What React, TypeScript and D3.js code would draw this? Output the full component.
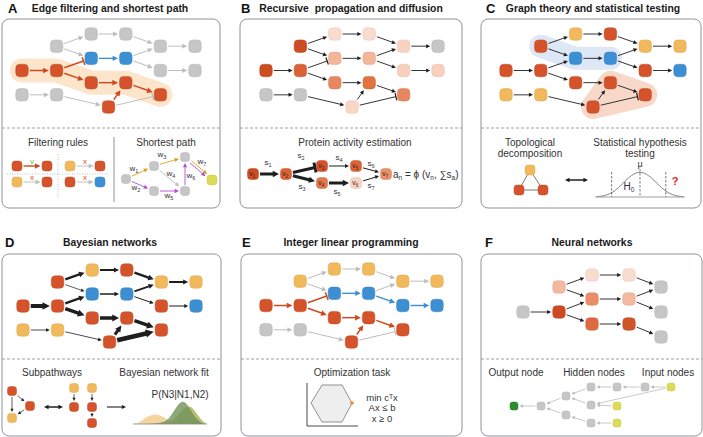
import React from 'react';
import * as d3 from 'd3';

// ---------- colours ----------
const RED = '#d4532b', BLUE = '#3d8fd3', GRAY = '#c6c6c6', YEL = '#f1b95c', LIME = '#dcdb58', GREEN = '#2e8a2e';
const E_RED = '#cf4a1f', E_BLUE = '#3d8fd3', E_GRAY = '#bdbdbd', E_BLK = '#1e1e1e';
const BOX = '#8e939a';
const ORANGE = '#d9a21f', PURPLE = '#b14fd2';

// ---------- shared pathway template ----------
const netIds = ['a', 'b', 'c', 'd', 'e', 'f', 'g', 'h', 'i', 'j', 'k', 'l', 'm', 'n', 'o', 'p', 'q'];
const netCols = [1, 2, 3, 4, 5, 2, 3, 4, 5, 0, 1, 2, 3, 4, 0, 1, 2.5];
const netRows = [1, 0, 0, 1, 1, 2, 2, 3, 3, 3, 3, 4, 4, 5, 5, 5, 6];
const netEdges = [['a', 'b'], ['a', 'f'], ['b', 'c'], ['c', 'd'], ['d', 'e'], ['f', 'g'], ['g', 'd'], ['g', 'h'], ['h', 'i'], ['j', 'k'], ['k', 'f'], ['k', 'l'], ['l', 'm'], ['m', 'n'], ['o', 'p'], ['p', 'q'], ['q', 'm'], ['q', 'n']];

const colorsA = [GRAY, GRAY, GRAY, GRAY, GRAY, BLUE, BLUE, GRAY, GRAY, RED, RED, RED, RED, RED, GRAY, GRAY, RED];
const colorsB = ['#cc4d22', '#fadccd', '#fadccd', '#f8d3c1', GRAY, '#f3b699', '#f3b699', '#f8d0bd', '#f8d0bd', '#cc4d22', '#d96337', '#e8875f', '#e0733f', '#e8875f', GRAY, GRAY, '#fad6c5'];
const colorsC = [RED, YEL, RED, YEL, YEL, BLUE, BLUE, RED, BLUE, RED, RED, RED, RED, RED, YEL, YEL, RED];
const colorsD = [RED, YEL, RED, YEL, YEL, BLUE, BLUE, RED, BLUE, RED, RED, RED, RED, RED, YEL, YEL, RED];
const colorsE = [YEL, YEL, YEL, YEL, YEL, BLUE, BLUE, BLUE, BLUE, RED, RED, RED, RED, RED, GRAY, GRAY, RED];

const G = E_GRAY, R = E_RED, B = E_BLUE, K = E_BLK;
const edgeColA = [G, G, G, G, G, B, G, G, G, R, R, R, R, R, G, G, R, G];
const edgeColBCD = netEdges.map(() => K);
const edgeColE = [G, G, G, G, G, B, G, B, B, R, R, R, R, R, G, G, R, G];
const kindsABE = netEdges.map((_, i) => (i === 10 || i === 17 ? 'inhibit' : 'arrow'));
const kindsC = netEdges.map((_, i) => (i === 17 ? 'inhibit' : 'arrow'));
const kindsD = netEdges.map(() => 'arrow');
const widthsA = [1, 1, 1, 1, 1, 1.3, 1, 1, 1, 1.5, 1.5, 1.5, 1.5, 1.5, 1, 1, 1.5, 1];
const widthsThin = netEdges.map(() => 0.9);
const widthsD = [2.4, 0.7, 2, 2.4, 2, 1.5, 2, 1, 1, 4, 2.4, 3.5, 3.5, 3.5, 0.8, 0.8, 3, 4.5];
const widthsE = [1, 1, 1, 1, 1, 1.4, 1, 1.4, 1.4, 1.5, 1.5, 1.5, 1.5, 1.5, 1, 1, 1.5, 1];

// ---------- panel frames ----------
const panelLetters = ['A', 'B', 'C', 'D', 'E', 'F'];
const panelTitles = ['Edge filtering and shortest path', 'Recursive  propagation and diffusion', 'Graph theory and statistical testing', 'Bayesian networks', 'Integer linear programming', 'Neural networks'];
const boxLeft = [2, 240, 481, 2, 241, 481];
const boxRight = [220, 462, 701, 221, 462, 702];
const boxTop = [19, 19, 19, 254, 254, 254];
const boxBottom = [208, 208, 208, 436, 436, 436];
const dashY = [128, 128, 128, 359, 359, 359];
const letterX = [8, 241, 486, 5, 242, 485];
const letterY = [13, 13, 13, 247, 247, 247];
const titleX = [110, 351, 593, 110, 351, 592];

// network placement: x range for cols 0..5, y range for rows 0..6
const netXRange = [[22, 195], [266, 438], [506, 680], [23, 196], [266, 437]];
const netYRange = [[34, 107], [34, 107], [34, 107], [270, 342], [269, 342]];

// ---------- A lower ----------
const ruleFrom = [RED, YEL, YEL, RED];
const ruleTo = [RED, RED, RED, BLUE];
const ruleOk = [true, false, false, false];
const ruleCol = [0, 1, 0, 1];
const ruleRow = [0, 0, 1, 1];

const spIds = ['s', 'u1', 'u2', 'u3', 'u4', 't'];
const spX = [126, 154, 154, 185, 185, 212];
const spY = [179, 166, 191, 157, 191, 180];
const spColor = [GRAY, GRAY, GRAY, GRAY, GRAY, LIME];
const spEdges = [['s', 'u1'], ['s', 'u2'], ['u1', 'u3'], ['u1', 'u4'], ['u2', 'u4'], ['u4', 'u3'], ['u3', 't'], ['u3', 't']];
const spEdgeCol = [ORANGE, PURPLE, ORANGE, E_GRAY, PURPLE, PURPLE, ORANGE, PURPLE];
const spOffset = [0, 0, 0, 0, 0, 0, -1.3, 1.3];
const spLabels = ['1', '2', '3', '4', '5', '6', '7'];
const spLabelX = [134, 136, 162, 171, 169, 191, 202];
const spLabelY = [171, 190, 157, 176, 198, 178, 164];

// ---------- B lower ----------
const vX = [253, 286, 322, 322, 356, 356, 386];
const vY = [174, 174, 166, 183, 166, 183, 174];
const vColor = ['#cf4c21', '#dc6034', '#d4532b', '#e2784c', '#dc6338', '#f8d3c2', '#ea9169'];
const vEdges = [[0, 1], [1, 2], [1, 3], [2, 4], [3, 5], [4, 6], [5, 6]];
const vEdgeW = [3, 3, 3, 1, 3, 1, 1];
const vKind = ['arrow', 'inhibit', 'arrow', 'arrow', 'arrow', 'arrow', 'arrow'];
const sLabelX = [268, 301, 302, 339, 337, 371, 371];
const sLabelY = [165, 158, 189, 160, 194, 166, 188];

// ---------- C lower ----------
const triX = [530, 519, 543];
const triY = [170, 190, 190];
const triColor = [YEL, RED, RED];
const bellPts = [[0, 0.01], [0.1, 0.05], [0.2, 0.2], [0.3, 0.52], [0.4, 0.85], [0.5, 1], [0.6, 0.85], [0.7, 0.52], [0.8, 0.2], [0.9, 0.05], [1, 0.01]];
const bellDash = [0.17, 0.5, 0.8];

// ---------- D lower ----------
const subX = [12, 30, 12, 74, 74, 92, 92, 92];
const subY = [391, 406, 418, 388, 407, 388, 407, 423];
const subColor = [RED, RED, YEL, YEL, RED, YEL, RED, RED];
const subEdges = [[0, 1], [1, 2], [0, 2], [3, 4], [5, 6], [6, 7]];
const distTan = [[0, 0], [0.08, 0.03], [0.17, 0.28], [0.3, 0.46], [0.43, 0.28], [0.52, 0.03], [0.6, 0], [1, 0]];
const distGreen = [[0, 0], [0.4, 0], [0.5, 0.25], [0.6, 0.8], [0.68, 1], [0.75, 0.75], [0.85, 0.2], [0.95, 0], [1, 0]];
const distOlive = [[0, 0], [0.45, 0], [0.55, 0.15], [0.65, 0.55], [0.75, 0.8], [0.83, 0.6], [0.92, 0.15], [1, 0]];

// ---------- E lower ----------
const hexPts = [[311, 403], [322, 385], [342, 385], [352, 403], [342, 422], [322, 422]];
const lpLines = ['min cᵀx', 'Ax ≤ b', 'x ≥ 0'];

// ---------- F ----------
const fX = [523, 559, 559, 592, 629, 592, 629, 592, 629, 661, 661, 661];
const fY = [312, 312, 287, 275, 275, 299, 299, 324, 324, 287, 312, 337];
const fColor = [GRAY, '#cc4a22', '#f3b89e', '#f9dccf', '#f9dccf', '#e98f68', '#f3b89e', '#dd6a42', '#d0542a', GRAY, GRAY, GRAY];
const fEdges = [[0, 1], [1, 5], [1, 7], [2, 3], [2, 5], [3, 4], [5, 6], [7, 8], [4, 9], [6, 9], [6, 10], [8, 11]];
const fbX = [514, 541, 566, 566, 591, 591, 591, 617, 617, 617, 645, 671];
const fbY = [406, 406, 396, 415, 387, 405, 423, 387, 406, 423, 387, 387];
const fbColor = [GREEN, GRAY, GRAY, GRAY, GRAY, GRAY, GRAY, GRAY, LIME, LIME, GRAY, LIME];
const fbEdges = [[7, 4], [10, 7], [11, 10], [11, 5], [8, 5], [9, 6], [4, 2], [5, 2], [6, 3], [2, 1], [3, 1], [1, 0]];

const FONT = 'Liberation Sans, Arial, Helvetica, sans-serif';
const NODE = 12.5;

function exitDist(ux: number, uy: number, h: number) {
  const a = Math.abs(ux) < 1e-6 ? Infinity : h / Math.abs(ux);
  const b = Math.abs(uy) < 1e-6 ? Infinity : h / Math.abs(uy);
  return Math.min(a, b);
}

function Arrow(props: any) {
  const { x1, y1, x2, y2, h1 = NODE / 2, h2 = NODE / 2, color, w = 1, kind = 'arrow', gap1 = 1.5, gap2 = 1.5, off = 0, hs = 1 } = props;
  const dx = x2 - x1, dy = y2 - y1;
  const len = Math.hypot(dx, dy);
  const ux = dx / len, uy = dy / len;
  const nx = -uy, ny = ux;
  const t1 = exitDist(ux, uy, h1) + gap1;
  const t2 = exitDist(ux, uy, h2) + gap2;
  const sx = x1 + ux * t1 + nx * off, sy = y1 + uy * t1 + ny * off;
  const ex = x2 - ux * t2 + nx * off, ey = y2 - uy * t2 + ny * off;
  const L = (3.6 + w * 1.4) * hs, W = (3.4 + w * 1.5) * hs;
  const els: any[] = [];
  if (kind === 'arrow' || kind === 'double') {
    let ax = sx, ay = sy;
    if (kind === 'double') {
      ax = sx + ux * L * 0.85; ay = sy + uy * L * 0.85;
      els.push(<polygon key="h0" points={`${sx},${sy} ${sx + ux * L + nx * W / 2},${sy + uy * L + ny * W / 2} ${sx + ux * L - nx * W / 2},${sy + uy * L - ny * W / 2}`} fill={color} />);
    }
    const lx = ex - ux * L * 0.85, ly = ey - uy * L * 0.85;
    els.push(<line key="l" x1={ax} y1={ay} x2={lx} y2={ly} stroke={color} strokeWidth={w} />);
    els.push(<polygon key="h" points={`${ex},${ey} ${ex - ux * L + nx * W / 2},${ey - uy * L + ny * W / 2} ${ex - ux * L - nx * W / 2},${ey - uy * L - ny * W / 2}`} fill={color} />);
  } else if (kind === 'inhibit') {
    els.push(<line key="l" x1={sx} y1={sy} x2={ex} y2={ey} stroke={color} strokeWidth={w} />);
    const bw = 3.2 + w * 0.6;
    els.push(<line key="b" x1={ex + nx * bw} y1={ey + ny * bw} x2={ex - nx * bw} y2={ey - ny * bw} stroke={color} strokeWidth={Math.max(1.2, w)} />);
  } else {
    els.push(<line key="l" x1={sx} y1={sy} x2={ex} y2={ey} stroke={color} strokeWidth={w} />);
  }
  return <g>{els}</g>;
}

function Node({ x, y, s, fill }: any) {
  const c = d3.color(fill);
  const st = c ? c.darker(0.25).formatHex() : fill;
  return <rect x={x - s / 2} y={y - s / 2} width={s} height={s} rx={s * 0.32} fill={fill} stroke={st} strokeWidth={0.5} />;
}

function Network({ p, colors, edgeCols, kinds, widths, headScale = 1 }: any) {
  const xs = d3.scaleLinear().domain([0, 5]).range(netXRange[p]);
  const ys = d3.scaleLinear().domain([0, 6]).range(netYRange[p]);
  const idx = (id: string) => netIds.indexOf(id);
  return (
    <g>
      {netEdges.map(([s, t], i) => {
        const a = idx(s), b = idx(t);
        return <Arrow key={i} x1={xs(netCols[a])} y1={ys(netRows[a])} x2={xs(netCols[b])} y2={ys(netRows[b])} color={edgeCols[i]} w={widths[i]} kind={kinds[i]} hs={headScale} />;
      })}
      {netIds.map((id, i) => <Node key={id} x={xs(netCols[i])} y={ys(netRows[i])} s={NODE} fill={colors[i]} />)}
    </g>
  );
}

function band(p: number, ids: string[]) {
  const xs = d3.scaleLinear().domain([0, 5]).range(netXRange[p]);
  const ys = d3.scaleLinear().domain([0, 6]).range(netYRange[p]);
  return ids.map(id => { const i = netIds.indexOf(id); return [xs(netCols[i]), ys(netRows[i])] as [number, number]; });
}

export default function App() {
  const line = d3.line();
  const bandA = band(0, ['j', 'k', 'l', 'm', 'n']);
  const bandCblue = band(2, ['a', 'f', 'g']);
  const bandCred = band(2, ['q', 'm', 'n']);

  // bell curve (C)
  const bx = d3.scaleLinear().domain([0, 1]).range([597, 683]);
  const by = d3.scaleLinear().domain([0, 1]).range([197, 171]);
  const bellPath = d3.line<number[]>().x(d => bx(d[0])).y(d => by(d[1])).curve(d3.curveBasis)(bellPts);

  // distributions (D)
  const dx = d3.scaleLinear().domain([0, 1]).range([133, 207]);
  const dy = d3.scaleLinear().domain([0, 1]).range([424, 400]);
  const area = d3.area<number[]>().x(d => dx(d[0])).y0(dy(0)).y1(d => dy(d[1])).curve(d3.curveBasis);

  const ruleX = d3.scaleLinear().domain([0, 1]).range([17, 70]);
  const ruleY = d3.scaleLinear().domain([0, 1]).range([166, 182]);

  return (
    <svg width={703} height={437} style={{ display: 'block', position: 'absolute', left: 0, top: 0, background: '#fff' }} fontFamily={FONT}>
      {/* frames */}
      {panelLetters.map((L, i) => (
        <g key={L}>
          <rect x={boxLeft[i]} y={boxTop[i]} width={boxRight[i] - boxLeft[i]} height={boxBottom[i] - boxTop[i]} rx={7} fill="#fff" stroke={BOX} strokeWidth={1} />
          <line x1={boxLeft[i]} x2={boxRight[i]} y1={dashY[i]} y2={dashY[i]} stroke="#8a8a8a" strokeWidth={0.8} strokeDasharray="3,2" />
          <text x={letterX[i]} y={letterY[i]} fontSize={13} fontWeight="bold" fill="#111">{L}</text>
          <text x={titleX[i]} y={letterY[i] - 1} fontSize={10.4} fontWeight="bold" fill="#1a1a1a" textAnchor="middle" style={{ whiteSpace: 'pre' }}>{panelTitles[i]}</text>
        </g>
      ))}

      {/* highlight bands */}
      <path d={line(bandA) || ''} fill="none" stroke="#fce5cb" strokeWidth={24} strokeLinejoin="round" strokeLinecap="round" />
      <path d={line(bandCblue) || ''} fill="none" stroke="#dde7f6" strokeWidth={23} strokeLinejoin="round" strokeLinecap="round" />
      <path d={(line(bandCred) || '') + 'Z'} fill="#f8d9c9" stroke="#f8d9c9" strokeWidth={24} strokeLinejoin="round" />

      {/* networks */}
      <Network p={0} colors={colorsA} edgeCols={edgeColA} kinds={kindsABE} widths={widthsA} />
      <Network p={1} colors={colorsB} edgeCols={edgeColBCD} kinds={kindsABE} widths={widthsThin} headScale={0.85} />
      <Network p={2} colors={colorsC} edgeCols={edgeColBCD} kinds={kindsC} widths={widthsThin} headScale={0.85} />
      <Network p={3} colors={colorsD} edgeCols={edgeColBCD} kinds={kindsD} widths={widthsD} headScale={0.8} />
      <Network p={4} colors={colorsE} edgeCols={edgeColE} kinds={kindsABE} widths={widthsE} />

      {/* ---- A lower ---- */}
      <text x={58} y={145.5} fontSize={10} textAnchor="middle" fill="#333">Filtering rules</text>
      <text x={166} y={145.5} fontSize={10} textAnchor="middle" fill="#333">Shortest path</text>
      <line x1={114} x2={114} y1={137} y2={202} stroke="#777" strokeWidth={0.8} />
      <line x1={58} x2={58} y1={154} y2={198} stroke="#bbb" strokeWidth={0.9} strokeDasharray="1,1.5" />
      <line x1={7} x2={108} y1={174} y2={174} stroke="#bbb" strokeWidth={0.9} strokeDasharray="1,1.5" />
      {ruleFrom.map((f, i) => {
        const x0 = ruleX(ruleCol[i]), x1 = x0 + 30, y = ruleY(ruleRow[i]);
        return (
          <g key={i}>
            <Arrow x1={x0} y1={y} x2={x1} y2={y} h1={5} h2={5} color={ruleOk[i] ? E_RED : E_GRAY} w={ruleOk[i] ? 1.4 : 0.9} />
            <Node x={x0} y={y} s={10} fill={f} />
            <Node x={x1} y={y} s={10} fill={ruleTo[i]} />
            <text x={(x0 + x1) / 2} y={y - 2.5} fontSize={8} textAnchor="middle" fill={ruleOk[i] ? '#5cbf3a' : '#e0502a'}>{ruleOk[i] ? 'v' : 'x'}</text>
          </g>
        );
      })}
      {spEdges.map(([s, t], i) => {
        const a = spIds.indexOf(s), b = spIds.indexOf(t);
        return <Arrow key={i} x1={spX[a]} y1={spY[a]} x2={spX[b]} y2={spY[b]} h1={4.5} h2={4.5} color={spEdgeCol[i]} w={0.9} off={spOffset[i]} hs={0.9} />;
      })}
      {spIds.map((id, i) => <Node key={id} x={spX[i]} y={spY[i]} s={i === 5 ? 10 : 9} fill={spColor[i]} />)}
      {spLabels.map((l, i) => (
        <text key={i} x={spLabelX[i]} y={spLabelY[i]} fontSize={8} textAnchor="middle" fill="#333">w<tspan fontSize={5.5} dy={1.5}>{l}</tspan></text>
      ))}

      {/* ---- B lower ---- */}
      <text x={355} y={145.5} fontSize={10} textAnchor="middle" fill="#333">Protein activity estimation</text>
      {vEdges.map(([a, b], i) => (
        <Arrow key={i} x1={vX[a]} y1={vY[a]} x2={vX[b]} y2={vY[b]} h1={5.5} h2={5.5} color={E_BLK} w={vEdgeW[i]} kind={vKind[i]} hs={0.8} />
      ))}
      {vX.map((x, i) => (
        <g key={i}>
          <Node x={x} y={vY[i]} s={11} fill={vColor[i]} />
          <text x={x - 0.8} y={vY[i] + 2.2} fontSize={7} textAnchor="middle" fill="#3a2018">v<tspan fontSize={4.5} dy={1.3}>{i + 1}</tspan></text>
        </g>
      ))}
      {sLabelX.map((x, i) => (
        <text key={i} x={x} y={sLabelY[i]} fontSize={8} textAnchor="middle" fill="#333">s<tspan fontSize={5.5} dy={1.5}>{i + 1}</tspan></text>
      ))}
      <text x={393} y={177.5} fontSize={10} fill="#333">a<tspan fontSize={6.5} dy={2}>n</tspan><tspan dy={-2}> = ϕ (v</tspan><tspan fontSize={6.5} dy={2}>n</tspan><tspan dy={-2}>, ∑s</tspan><tspan fontSize={6.5} dy={2}>a</tspan><tspan dy={-2}>)</tspan></text>

      {/* ---- C lower ---- */}
      <text x={530} y={145.5} fontSize={10} textAnchor="middle" fill="#333">Topological</text>
      <text x={530} y={157} fontSize={10} textAnchor="middle" fill="#333">decomposition</text>
      <text x={640} y={145.5} fontSize={10} textAnchor="middle" fill="#333">Statistical hypothesis</text>
      <text x={640} y={157} fontSize={10} textAnchor="middle" fill="#333">testing</text>
      {[[0, 1], [0, 2], [1, 2]].map(([a, b], i) => (
        <line key={i} x1={triX[a]} y1={triY[a]} x2={triX[b]} y2={triY[b]} stroke="#555" strokeWidth={0.8} />
      ))}
      {triX.map((x, i) => <Node key={i} x={x} y={triY[i]} s={10} fill={triColor[i]} />)}
      <Arrow x1={565} y1={180} x2={588} y2={180} h1={0} h2={0} gap1={0} gap2={0} color={E_BLK} w={1.5} kind="double" hs={0.8} />
      <line x1={595} x2={685} y1={197} y2={197} stroke="#888" strokeWidth={0.8} />
      <path d={bellPath || ''} fill="none" stroke="#777" strokeWidth={0.9} />
      {bellDash.map((v, i) => (
        <line key={i} x1={bx(v)} x2={bx(v)} y1={i === 1 ? 169 : 172} y2={197} stroke="#555" strokeWidth={0.8} strokeDasharray="2.5,1.5" />
      ))}
      <text x={bx(0.5)} y={167} fontSize={9} textAnchor="middle" fill="#333">μ</text>
      <text x={629} y={190} fontSize={10} textAnchor="middle" fill="#333">H<tspan fontSize={6.5} dy={2}>0</tspan></text>
      <text x={675} y={185} fontSize={11} fontWeight="bold" textAnchor="middle" fill="#e21e26">?</text>

      {/* ---- D lower ---- */}
      <text x={52} y={375.5} fontSize={10} textAnchor="middle" fill="#333">Subpathways</text>
      <text x={164} y={375.5} fontSize={10} textAnchor="middle" fill="#333">Bayesian network fit</text>
      {subEdges.map(([a, b], i) => (
        <Arrow key={i} x1={subX[a]} y1={subY[a]} x2={subX[b]} y2={subY[b]} h1={4.5} h2={4.5} color={E_BLK} w={0.7} hs={0.7} />
      ))}
      {subX.map((x, i) => <Node key={i} x={x} y={subY[i]} s={9} fill={subColor[i]} />)}
      <Arrow x1={44} y1={407} x2={63} y2={407} h1={0} h2={0} gap1={0} gap2={0} color={E_BLK} w={1.5} kind="double" hs={0.8} />
      <Arrow x1={107} y1={407} x2={126} y2={407} h1={0} h2={0} gap1={0} gap2={0} color={E_BLK} w={1.1} hs={0.8} />
      <text x={180} y={398} fontSize={10} textAnchor="middle" fill="#333">P(N3|N1,N2)</text>
      <path d={area(distTan) || ''} fill="#f3cf95" opacity={0.9} />
      <path d={area(distOlive) || ''} fill="#b6b868" opacity={0.9} />
      <path d={area(distGreen) || ''} fill="#6d9257" opacity={0.8} />
      <line x1={133} x2={207} y1={424} y2={424} stroke="#888" strokeWidth={0.8} />

      {/* ---- E lower ---- */}
      <text x={352} y={375.5} fontSize={10} textAnchor="middle" fill="#333">Optimization task</text>
      <polygon points={hexPts.map(p => p.join(',')).join(' ')} fill="#eeeeee" stroke="#777" strokeWidth={0.8} />
      <line x1={307} x2={307} y1={383} y2={426} stroke="#333" strokeWidth={0.9} />
      <line x1={307} x2={358} y1={426} y2={426} stroke="#333" strokeWidth={0.9} />
      <circle cx={hexPts[3][0]} cy={hexPts[3][1]} r={1.8} fill="#f08a20" />
      {lpLines.map((t, i) => (
        <text key={i} x={382} y={400.5 + i * 10.5} fontSize={9.5} textAnchor="middle" fill="#333">{t}</text>
      ))}

      {/* ---- F ---- */}
      {fEdges.map(([a, b], i) => (
        <Arrow key={i} x1={fX[a]} y1={fY[a]} x2={fX[b]} y2={fY[b]} color={E_BLK} w={0.9} hs={0.85} />
      ))}
      {fX.map((x, i) => <Node key={i} x={x} y={fY[i]} s={NODE} fill={fColor[i]} />)}
      <text x={516} y={375.5} fontSize={10} textAnchor="middle" fill="#333">Output node</text>
      <text x={594} y={375.5} fontSize={10} textAnchor="middle" fill="#333">Hidden nodes</text>
      <text x={668} y={375.5} fontSize={10} textAnchor="middle" fill="#333">Input nodes</text>
      {fbEdges.map(([a, b], i) => (
        <Arrow key={i} x1={fbX[a]} y1={fbY[a]} x2={fbX[b]} y2={fbY[b]} h1={4} h2={4} color={E_GRAY} w={0.8} hs={0.75} />
      ))}
      {fbX.map((x, i) => <Node key={i} x={x} y={fbY[i]} s={8} fill={fbColor[i]} />)}
    </svg>
  );
}
